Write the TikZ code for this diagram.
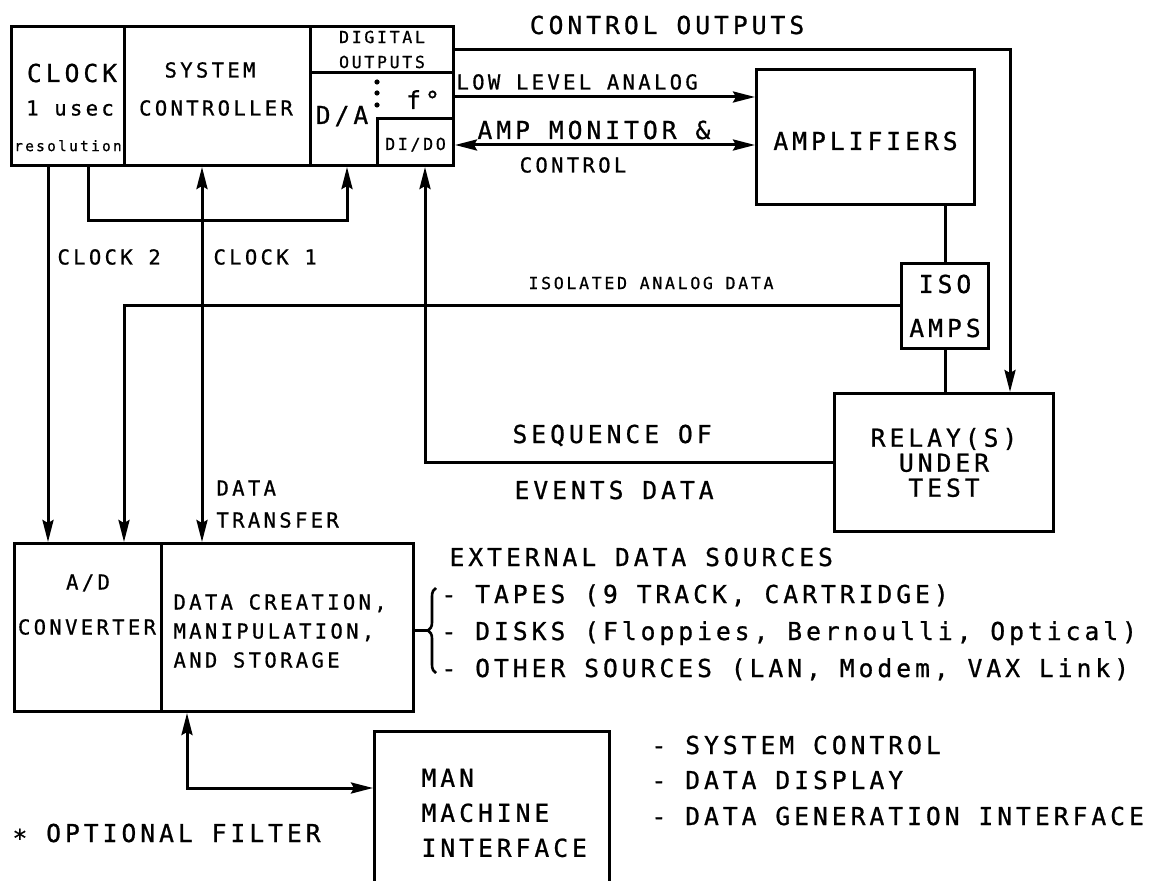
\documentclass[tikz,border=0pt]{standalone}
\usepackage{fontspec}
\newfontfamily\plotfont{DejaVu Sans Mono}[LetterSpace=16, FakeBold=0.8]
\usetikzlibrary{arrows.meta,decorations.pathreplacing}

\begin{document}
\begin{tikzpicture}[
    x=0.5pt, y=-0.5pt,
    line width=1.5pt,
    box/.style={draw, line width=1.5pt, inner sep=0pt, anchor=north west},
    fL/.style={font=\plotfont\fontsize{12.35}{#1}\selectfont}, fL/.default=12.5pt,
    fM/.style={font=\plotfont\fontsize{10.3}{#1}\selectfont}, fM/.default=12pt,
    fS/.style={font=\plotfont\fontsize{8.3}{#1}\selectfont}, fS/.default=10pt,
    bigtxt/.style={fL, inner sep=0pt, text height=9pt, text depth=0pt},
    midtxt/.style={fM, inner sep=0pt, text height=7.5pt, text depth=0pt},
    smltxt/.style={fS, inner sep=0pt, text height=6.1pt, text depth=0pt},
    tip/.tip={Stealth[length=11pt, width=5.5pt, inset=1.5pt]},
    flow/.style={-tip},
    both/.style={tip-tip},
  ]
  \useasboundingbox (0,0) rectangle (1159,881);

  % top unit
  \node[box, minimum width=56.5pt, minimum height=69.5pt] (clock) at (10,25) {};
  \node[box, minimum width=93pt, minimum height=69.5pt] (sysc) at (123,25) {};
  \node[box, minimum width=71.5pt, minimum height=23pt, fS=12.5pt, align=center]
    (dout) at (309,25) {DIGITAL\\OUTPUTS};
  \node[box, minimum width=71.5pt, minimum height=46.5pt] (da) at (309,71) {};
  \node[box, minimum width=38pt, minimum height=23.5pt, smltxt, text height=8pt]
    (dido) at (376,117) {DI/DO};
  \node[bigtxt] (clocklbl) at (72,73) {CLOCK};
  \node[midtxt] (usec) at (70,108) {1 usec};
  \node[smltxt, font=\plotfont\fontsize{7.2}{9}\selectfont] (resol) at (68,145) {resolution};
  \node[midtxt] (sys1) at (210,70) {SYSTEM};
  \node[midtxt] (sys2) at (216,108) {CONTROLLER};
  \node[bigtxt] (dalbl) at (342,115) {D/A};
  \node[bigtxt] (flbl) at (423,100) {f°};
  \foreach \y in {82,93,105} \fill (377,\y) circle (1.3pt);

  % plant side
  \node[box, minimum width=109pt, minimum height=67.5pt, bigtxt, text height=13pt]
    (amp) at (755,68) {AMPLIFIERS};
  \node[box, minimum width=43.5pt, minimum height=42.5pt, fL=22pt, align=center]
    (iso) at (900,262) {ISO\\AMPS};
  \node[box, minimum width=109.5pt, minimum height=69pt, fL=12.5pt, align=center]
    (relay) at (833,392) {RELAY(S)\\UNDER\\TEST};

  % data side
  \node[box, minimum width=73.5pt, minimum height=84pt] (adc) at (13,542) {};
  \node[box, minimum width=126pt, minimum height=84pt] (dcm) at (160,542) {};
  \node[box, minimum width=117.5pt, minimum height=85pt] (mmi) at (373,730) {};
  \node[midtxt] (adlbl) at (88,582) {A/D};
  \node[midtxt] (convlbl) at (87,627) {CONVERTER};
  \node[fM=14.5pt, inner sep=0pt, anchor=west, align=left] (dcmlbl) at (172,631)
    {DATA CREATION,\\MANIPULATION,\\AND STORAGE};
  \node[fL=17.5pt, inner sep=0pt, anchor=west, align=left] (mmilbl) at (420,813)
    {MAN\\MACHINE\\INTERFACE};

  % connector labels
  \node[bigtxt] (outlbl) at (667,25) {CONTROL OUTPUTS};
  \node[midtxt, anchor=west] (lowlbl) at (455,82) {LOW LEVEL ANALOG};
  \node[bigtxt, anchor=west] (amplbl) at (476,130) {AMP MONITOR \&};
  \node[midtxt] (ctllbl) at (573,165) {CONTROL};
  \node[midtxt, anchor=west] (c2lbl) at (56,257) {CLOCK 2};
  \node[midtxt, anchor=west] (c1lbl) at (212,257) {CLOCK 1};
  \node[smltxt, anchor=west] (isolbl) at (527,283) {ISOLATED ANALOG DATA};
  \node[bigtxt, anchor=west] (seq1) at (511,434) {SEQUENCE OF};
  \node[bigtxt, anchor=west] (seq2) at (513,490) {EVENTS DATA};
  \node[midtxt, anchor=west] (dt1) at (215,488) {DATA};
  \node[midtxt, anchor=west] (dt2) at (215,520) {TRANSFER};

  % side notes
  \node[bigtxt, anchor=west] (extlbl) at (448,557) {EXTERNAL DATA SOURCES};
  \node[bigtxt, anchor=west] (src1) at (440,594) {- TAPES (9 TRACK, CARTRIDGE)};
  \node[bigtxt, anchor=west] (src2) at (440,631) {- DISKS (Floppies, Bernoulli, Optical)};
  \node[bigtxt, anchor=west] (src3) at (440,668) {- OTHER SOURCES (LAN, Modem, VAX Link)};
  \node[bigtxt, anchor=west] (use1) at (650,745) {- SYSTEM CONTROL};
  \node[bigtxt, anchor=west] (use2) at (650,780) {- DATA DISPLAY};
  \node[bigtxt, anchor=west] (use3) at (650,816) {- DATA GENERATION INTERFACE};
  \node[bigtxt, anchor=west] (optlbl) at (11,833) {∗ OPTIONAL FILTER};

  \coordinate (k2) at (48,0);
  \coordinate (k1) at (202,0);
  \coordinate (kb) at (88,221);
  \coordinate (kb2) at (347,221);
  \coordinate (ia) at (124,0);
  \coordinate (soe) at (425,0);
  \coordinate (co) at (1010,0);
  \coordinate (ll) at (0,97);
  \coordinate (am) at (0,145);
  \coordinate (mm) at (187,788);
  \coordinate (brtip) at (428,630);
  \coordinate (brtop) at (436,588);
  \coordinate (brbot) at (436,673);

  % clocks and data transfer
  \draw[flow] (clock.south -| k2) -- (adc.north -| k2);
  \draw[flow] (clock.south -| kb) -- (kb) -- (kb2) -- (da.south -| kb2);
  \draw[both] (sysc.south -| k1) -- (dcm.north -| k1);
  % outputs to the plant
  \draw[flow] (dout.east) -| (relay.north -| co);
  \draw[flow] (da.east |- ll) -- (amp.west |- ll);
  \draw[both] (dido.east |- am) -- (amp.west |- am);
  \draw (amp.south -| iso.north) -- (iso.north);
  \draw (iso.south) -- (relay.north -| iso.south);
  % data coming back
  \draw[flow] (iso.west) -| (adc.north -| ia);
  \draw[flow] (relay.west) -| (dido.south -| soe);
  \draw[both] (dcm.south -| mm) |- (mmi.west |- mm);
  % external sources
  \draw (dcm.east |- brtip) -- (brtip);
  \draw[line width=1.3pt, decorate, decoration={brace, amplitude=4pt}] (brbot) -- (brtop);
\end{tikzpicture}
\end{document}
